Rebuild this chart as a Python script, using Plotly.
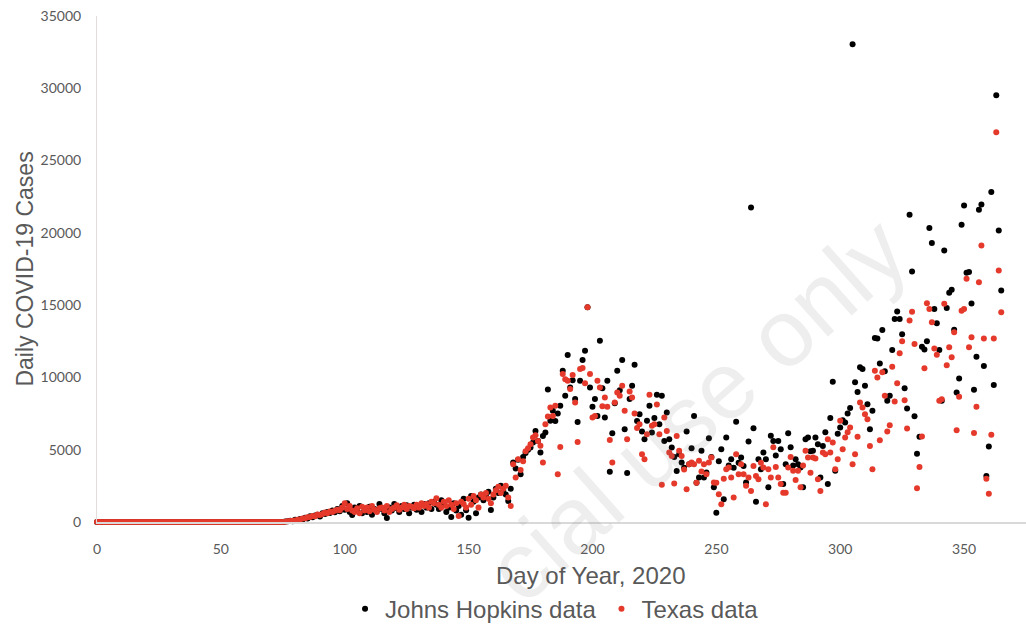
import plotly.graph_objects as go

# Day of year 2020 (0 .. 365)
days = list(range(366))

# Johns Hopkins daily cases
jh_cases = [
    0, 0, 0, 0, 0, 0, 0, 0, 0, 0, 0, 0, 0, 0, 0, 0, 0, 0, 0, 0,
    0, 0, 0, 0, 0, 0, 0, 0, 0, 0, 0, 0, 0, 0, 0, 0, 0, 0, 0, 0,
    0, 0, 0, 0, 0, 0, 0, 0, 0, 0, 0, 0, 0, 0, 0, 0, 0, 0, 0, 0,
    0, 0, 0, 0, 0, 0, 0, 0, 0, 0, 0, 0, 0, 0, 0, 0,
    30, 60, 90, 60, 150, 120, 200, 180, 300, 250, 400, 330, 450, 500, 380, 600,
    550, 700, 620, 800, 680, 900, 750, 1100,
    850, 1300, 700, 490, 1000, 800, 1100, 600, 900, 700,
    1050, 500, 900, 800, 1250, 900, 600, 280, 1000, 800,
    1250, 950, 700, 1100, 900, 1150, 600, 1000, 1200, 850,
    1100, 700, 1250, 1000, 1300, 900, 1400, 1200,
    900, 1500, 1250, 700, 1000, 350, 1300, 800, 1100, 500,
    1600, 810, 300, 1800, 1400, 600, 1700, 1900, 1500, 1800,
    2100, 830, 1700, 2300, 2000, 2500, 2150, 1900, 1460, 2300,
    4110, 3700, 4300, 3300, 4500, 4780, 5000, 5150, 5500, 6300,
    5600, 4800, 5950, 6190, 9170, 7000, 7690, 6990, 7500, 8040,
    10460, 8730, 11550, 9310, 9800, 8500, 6910, 9770, 11200, 11850,
    14850, 9310, 7970, 8500, 7340, 12540, 9260, 7230, 9770, 3470,
    6140, 8220, 10460, 9120, 11200, 6420, 3390, 8500, 9420, 10880,
    6990, 7460, 6260, 5730, 7000, 8040, 6190, 7200, 8800, 6770,
    8730, 5610, 7580, 5730, 5150, 4500, 3530, 4690, 4110, 3760,
    6260, 4000, 5100, 7340, 2720,
    3070, 4920, 3070, 3420, 5800, 4500, 2400, 640, 4200, 5030,
    1570, 5840, 3900, 4340, 3760, 6930, 4100, 4460, 3880, 2730,
    5560, 21760, 6490, 1400, 4340, 3650, 4800, 4340, 2400, 5960,
    5610, 4600, 5610, 5030, 2630, 4000, 6140, 5170, 3900, 4340,
    4000, 3770, 2400, 5720, 5840, 4900, 4920, 5840, 5380, 3070,
    5260, 6200, 2630, 7200, 9700, 3540, 6100, 6530, 7040, 6880,
    7500, 7880, 33050, 9660, 9000,
    10700, 10580, 9430, 8150, 6420, 7690, 12730, 12700, 10970, 13280,
    10420, 8380, 8730, 11900, 14040, 14560, 14040, 12980, 9260, 7850,
    21250, 17330, 7320, 4720, 5900, 12130, 11940, 12500, 20330, 19290,
    14740, 13750, 11900, 8380, 18780, 14810, 15850, 16060, 13300, 8960,
    9930, 20560, 21900, 17240, 17300, 15120, 9140, 11430, 21600, 21970,
    10790, 3190, 5230, 22820, 9480, 29520, 20170, 16010,
]

# Texas daily cases
tx_cases = [
    0, 0, 0, 0, 0, 0, 0, 0, 0, 0, 0, 0, 0, 0, 0, 0, 0, 0, 0, 0,
    0, 0, 0, 0, 0, 0, 0, 0, 0, 0, 0, 0, 0, 0, 0, 0, 0, 0, 0, 0,
    0, 0, 0, 0, 0, 0, 0, 0, 0, 0, 0, 0, 0, 0, 0, 0, 0, 0, 0, 0,
    0, 0, 0, 0, 0, 0, 0, 0, 0, 0, 0, 0, 0, 0, 0, 0,
    20, 50, 70, 90, 110, 160, 180, 240, 260, 330, 350, 420, 400, 520, 480, 560,
    650, 600, 720, 700, 780, 850, 820, 1000,
    1300, 900, 1100, 800, 700, 950, 600, 1050, 800, 1000,
    750, 1100, 850, 700, 950, 1000, 800, 1100, 700, 900,
    1000, 1150, 850, 1000, 1200, 900, 1100, 1050, 950, 1200,
    1000, 1300, 1100, 1250, 1000, 1400, 1300, 1650,
    1200, 1000, 1400, 1100, 1500, 1200, 900, 1300, 420, 1400,
    1250, 1000, 1600, 1200, 1800, 1500, 1000, 1900, 1700, 2000,
    1600, 1300, 1900, 2200, 2430, 2000, 2300, 2500, 1700, 1110,
    4000, 3070, 4340, 3600, 4200, 4900, 5100, 5380, 5840, 6000,
    5610, 5270, 4110, 6770, 7300, 7920, 7340, 8040, 3300, 5190,
    10230, 9880, 9770, 9200, 10160, 8270, 5540, 10580, 10650, 9600,
    14850, 10230, 7230, 7340, 9770, 9310, 8000, 8610, 7970, 5680,
    4110, 8270, 8960, 8730, 9420, 7690, 5730, 9030, 8610, 7500,
    6500, 6770, 4690, 4340, 6070, 8800, 6650, 6770, 8120, 6070,
    2570, 7230, 6300, 4800, 4570, 2660, 5950, 4920, 4570, 3640,
    2260, 4000, 4110, 4000, 2720,
    4230, 3500, 4000, 3300, 4110, 4460, 2730, 2720, 1920, 1230,
    3000, 3650, 3770, 3070, 1690, 4690, 3300, 4000, 3300, 2500,
    3070, 2150, 3880, 3190, 2960, 4100, 3770, 1230, 3650, 3070,
    5170, 3800, 3070, 2630, 2030, 2030, 3770, 4500, 3540, 2900,
    3540, 2400, 3900, 4920, 4460, 3400, 4460, 4400, 2960, 2150,
    4800, 4690, 5720, 4800, 5500, 3650, 4340, 7000, 5030, 5840,
    6200, 6530, 4000, 4690, 5900,
    8270, 7920, 7460, 7110, 5260, 3650, 10460, 9990, 5660, 10350,
    8730, 6260, 6700, 10740, 8340, 9600, 11670, 12500, 8430, 6470,
    13930, 14550, 12310, 2330, 3810, 5910, 10630, 15130, 14740, 13820,
    12000, 11570, 8380, 8490, 15090, 10850, 12080, 11390, 13120, 6350,
    8660, 14620, 14740, 16820, 12080, 12780, 6150, 7970, 16580, 19130,
    12700, 2990, 1960, 6040, 12700, 26960, 17390, 14510,
]

x_ticks = [0, 50, 100, 150, 200, 250, 300, 350]
y_ticks = [0, 5000, 10000, 15000, 20000, 25000, 30000, 35000]

GRAY = "#595959"
FONT = "Liberation Sans, Arial, sans-serif"

fig = go.Figure()
fig.add_trace(go.Scatter(
    x=days, y=jh_cases, mode="markers", name="Johns Hopkins data",
    marker=dict(color="#000000", size=6), cliponaxis=False,
))
fig.add_trace(go.Scatter(
    x=days, y=tx_cases, mode="markers", name="Texas data",
    marker=dict(color="#e5392b", size=6), cliponaxis=False,
))

fig.update_layout(
    width=1026, height=628,
    margin=dict(l=97, r=0, t=16, b=106, autoexpand=False),
    paper_bgcolor="white", plot_bgcolor="white",
    font=dict(family=FONT, color=GRAY),
    showlegend=True,
    legend=dict(
        orientation="h", x=0.4925, xanchor="center", y=-0.172, yanchor="middle",
        font=dict(family=FONT, size=24, color=GRAY),
        itemsizing="trace", bgcolor="rgba(0,0,0,0)",
    ),
    xaxis=dict(
        range=[0, 375], tickvals=x_ticks, ticktext=[str(v) for v in x_ticks],
        showgrid=False, zeroline=False, showline=True,
        linecolor="#d9d9d9", linewidth=1.5,
        tickfont=dict(family="Lato, sans-serif", size=14, color=GRAY),
        ticklabelstandoff=13,
    ),
    yaxis=dict(
        range=[0, 35000], tickvals=y_ticks, ticktext=[str(v) for v in y_ticks],
        showgrid=False, zeroline=False, showline=True,
        linecolor="#e3dcdc", linewidth=1,
        tickfont=dict(family="Lato, sans-serif", size=14, color=GRAY),
        ticklabelstandoff=12,
    ),
    annotations=[
        dict(text="cial use only", x=0.6457, y=0.2233, xref="paper", yref="paper",
             xanchor="center", yanchor="middle", showarrow=False, textangle=-41.6,
             font=dict(family=FONT, size=95, color="rgba(120,120,120,0.13)")),
        dict(text="Day of Year, 2020", x=0.5315, y=-0.105, xref="paper", yref="paper",
             xanchor="center", yanchor="middle", showarrow=False,
             font=dict(family=FONT, size=24, color=GRAY)),
        dict(text="Daily COVID-19 Cases", x=-0.078, y=0.5, xref="paper", yref="paper",
             xanchor="center", yanchor="middle", showarrow=False, textangle=-90,
             font=dict(family=FONT, size=23, color=GRAY)),
    ],
)

fig.write_html("out.html", config={"displayModeBar": False},
               post_script="document.body.style.margin='0';")
